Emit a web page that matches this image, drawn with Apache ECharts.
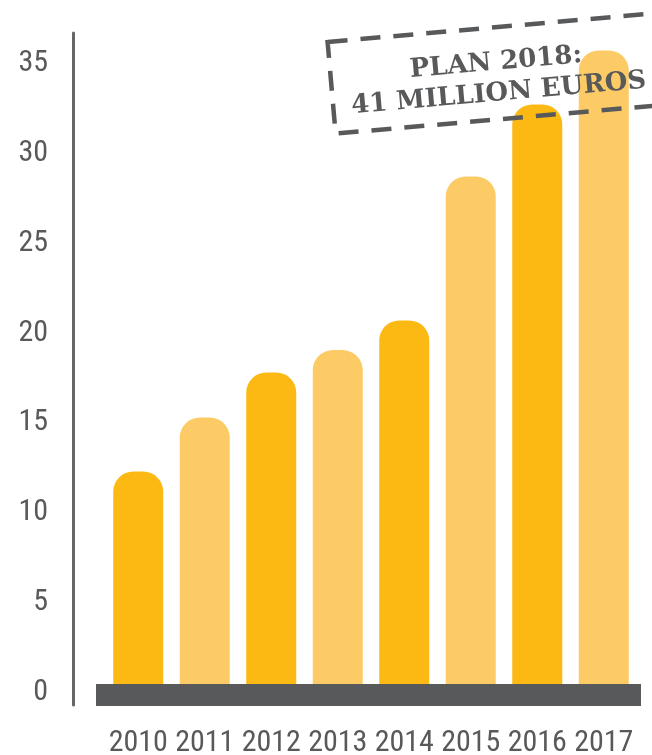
<!DOCTYPE html>
<html>
<head>
<meta charset="utf-8">
<script src="https://cdn.jsdelivr.net/npm/echarts@6/dist/echarts.min.js"></script>
<style>
  html, body { margin: 0; padding: 0; background: #ffffff; }
  #chart { width: 652px; height: 755px; }
</style>
</head>
<body>
<div id="chart"></div>
<script>
// ---- data ----
const years = ['2010', '2011', '2012', '2013', '2014', '2015', '2016', '2017'];
const revenue = [12.3, 15.3, 17.8, 19.05, 20.7, 28.7, 32.7, 35.7];
const yTicks = [0, 5, 10, 15, 20, 25, 30, 35];
const noteText = 'PLAN 2018:\n41 MILLION EUROS';

const DARK = '#FDB913';
const LIGHT = '#FDCB65';
const GREY = '#58595B';
const FONT = "'Roboto Condensed', 'DejaVu Sans Condensed', sans-serif";

const chart = echarts.init(document.getElementById('chart'));
chart.setOption({
  animation: false,
  backgroundColor: '#ffffff',
  grid: { left: 105, right: 15, top: 33, bottom: 50, containLabel: false, outerBoundsMode: 'none' },
  xAxis: {
    type: 'category',
    data: years,
    axisLine: { show: false },
    axisTick: { show: false },
    axisLabel: { interval: 0, color: GREY, fontFamily: FONT, fontSize: 30, margin: 23 }
  },
  yAxis: {
    type: 'value',
    min: -0.67,
    max: 36.67,
    offset: 32,
    axisLine: { show: true, lineStyle: { color: '#666666', width: 3 } },
    axisTick: { show: false },
    splitLine: { show: false },
    axisLabel: {
      customValues: yTicks,
      color: GREY, fontFamily: FONT, fontSize: 30, margin: 25
    }
  },
  series: [{
    type: 'bar',
    z: 2,
    data: revenue,
    barWidth: 50,
    itemStyle: {
      color: p => (p.dataIndex % 2 === 0 ? DARK : LIGHT),
      borderRadius: [20, 20, 0, 0]
    }
  }],
  graphic: {
    elements: [
      {
        type: 'rect',
        z: 100,
        shape: { x: 96, y: 684, width: 545, height: 22 },
        style: { fill: GREY }
      },
      {
        type: 'group',
        x: 489,
        y: 74,
        rotation: 5 * Math.PI / 180,
        z: 100,
        children: [
          {
            type: 'rect',
            z: 100,
            shape: { x: -158, y: -46, width: 345, height: 92 },
            style: { fill: null, stroke: GREY, lineWidth: 4.5, lineDash: [20, 13] }
          },
          {
            type: 'text',
            z: 101,
            x: 8,
            y: 5,
            style: {
              text: noteText,
              fill: GREY,
              font: "bold 26px 'DejaVu Serif', serif",
              align: 'center',
              verticalAlign: 'middle',
              lineHeight: 31
            }
          }
        ]
      }
    ]
  }
});
</script>
</body>
</html>
